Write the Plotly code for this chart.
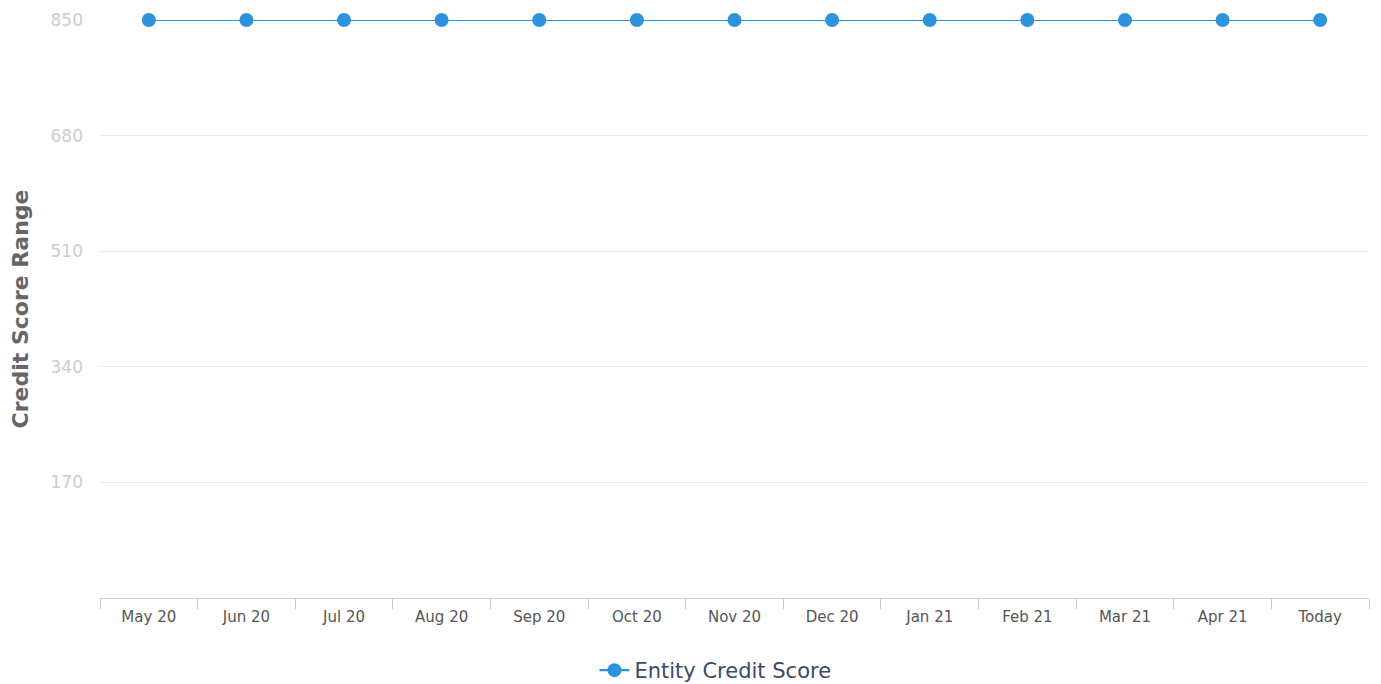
import plotly.graph_objects as go

categories = ["May 20", "Jun 20", "Jul 20", "Aug 20", "Sep 20", "Oct 20", "Nov 20",
              "Dec 20", "Jan 21", "Feb 21", "Mar 21", "Apr 21", "Today"]
scores = [850] * 13
y_ticks = [170, 340, 510, 680, 850]
series_name = "Entity Credit Score"

fig = go.Figure()
fig.add_trace(go.Scatter(
    x=categories, y=scores, mode="lines+markers", name=series_name,
    line=dict(color="#2e93dd", width=2.2),
    marker=dict(color="#2e93dd", size=14),
    cliponaxis=False,
))

# page body has an 8px margin, so offsets compensate for it
fig.update_layout(
    width=1381, height=684,
    margin=dict(l=92, r=20, t=12, b=94, autoexpand=False),
    plot_bgcolor="white", paper_bgcolor="white",
    font=dict(family="DejaVu Sans", color="#666666"),
    showlegend=True,
    legend=dict(orientation="h", x=0.485, xanchor="center", y=-0.09, yanchor="top",
                font=dict(size=21, color="#3a4a68", family="DejaVu Sans")),
    xaxis=dict(
        type="category", range=[-0.5, 12.5],
        showgrid=False, showline=True, linecolor="#cccccc", linewidth=1,
        ticks="outside", tickson="boundaries", ticklen=10, tickcolor="#cccccc",
        tickfont=dict(size=15, color="#555555", family="DejaVu Sans"),
        ticklabelstandoff=5,
        zeroline=False,
    ),
    yaxis=dict(
        range=[0, 850], tickvals=y_ticks, showgrid=True, gridcolor="#eaeaea",
        zeroline=False, showline=False, ticks="",
        tickfont=dict(size=17, color="#cccccc", family="DejaVu Sans"),
        ticklabelstandoff=16,
        title=dict(text="<b>Credit Score Range</b>", font=dict(size=22, color="#666666"),
                   standoff=22),
    ),
)

fig.write_html("out.html")
